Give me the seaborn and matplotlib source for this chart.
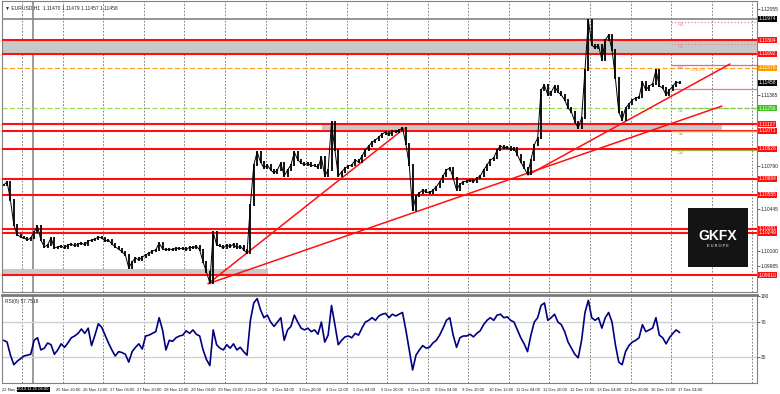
import numpy as np
import pandas as pd
import matplotlib
matplotlib.use('Agg')
import matplotlib.pyplot as plt
import matplotlib.transforms as mtransforms
from matplotlib.patches import Rectangle
import seaborn as sns

sns.set_style('white')
plt.rcParams['font.family'] = ['Liberation Sans', 'DejaVu Sans']

# EURUSD, 2-hour closes (22 Nov 12:00 .. 17 Dec 04:00)
close = [1.10636, 1.10660, 1.10515, 1.10313, 1.10233, 1.10217, 1.10209, 1.10192, 1.10209, 1.10257,
         1.10305, 1.10192, 1.10136, 1.10152, 1.10209, 1.10128, 1.10136, 1.10144, 1.10128, 1.10152,
         1.10160, 1.10144, 1.10160, 1.10168, 1.10152, 1.10184, 1.10192, 1.10200, 1.10217, 1.10209,
         1.10184, 1.10192, 1.10160, 1.10136, 1.10120, 1.10096, 1.10072, 1.09967, 1.10015, 1.10047,
         1.10031, 1.10055, 1.10072, 1.10088, 1.10104, 1.10112, 1.10168, 1.10120, 1.10112, 1.10120,
         1.10112, 1.10128, 1.10120, 1.10128, 1.10112, 1.10136, 1.10128, 1.10144, 1.10112, 1.10015,
         1.09934, 1.09846, 1.10257, 1.10152, 1.10144, 1.10128, 1.10152, 1.10136, 1.10160, 1.10128,
         1.10144, 1.10112, 1.10088, 1.10475, 1.10797, 1.10902, 1.10821, 1.10773, 1.10797, 1.10757,
         1.10732, 1.10757, 1.10813, 1.10708, 1.10757, 1.10797, 1.10902, 1.10837, 1.10813, 1.10797,
         1.10813, 1.10789, 1.10797, 1.10773, 1.10862, 1.10708, 1.10757, 1.11144, 1.10918, 1.10708,
         1.10740, 1.10773, 1.10789, 1.10797, 1.10837, 1.10821, 1.10869, 1.10918, 1.10950, 1.10982,
         1.10998, 1.11023, 1.11047, 1.11063, 1.11039, 1.11071, 1.11063, 1.11079, 1.11095, 1.10966,
         1.10797, 1.10434, 1.10547, 1.10571, 1.10595, 1.10579, 1.10571, 1.10595, 1.10620, 1.10660,
         1.10708, 1.10757, 1.10773, 1.10692, 1.10595, 1.10644, 1.10660, 1.10668, 1.10676, 1.10660,
         1.10692, 1.10708, 1.10757, 1.10797, 1.10837, 1.10853, 1.10918, 1.10950, 1.10934, 1.10942,
         1.10918, 1.10934, 1.10878, 1.10821, 1.10773, 1.10724, 1.10837, 1.10958, 1.11015, 1.11401,
         1.11442, 1.11361, 1.11385, 1.11434, 1.11385, 1.11361, 1.11321, 1.11256, 1.11224, 1.11144,
         1.11095, 1.11176, 1.11563, 1.11966, 1.11764, 1.11740, 1.11764, 1.11643, 1.11804, 1.11845,
         1.11724, 1.11498, 1.11224, 1.11160, 1.11256, 1.11289, 1.11321, 1.11337, 1.11345, 1.11466,
         1.11401, 1.11434, 1.11450, 1.11563, 1.11434, 1.11418, 1.11361, 1.11401, 1.11434, 1.11466,
         1.11458]

rsi = [49, 47, 32, 21, 25, 28, 31, 32, 33, 49,
       52, 38, 40, 46, 44, 33, 38, 45, 41, 46,
       52, 54, 57, 62, 57, 63, 43, 55, 68, 64,
       55, 46, 38, 31, 36, 35, 33, 24, 36, 41,
       45, 39, 54, 55, 57, 59, 75, 61, 38, 49,
       48, 52, 54, 55, 60, 57, 61, 56, 54, 38,
       27, 20, 61, 44, 40, 38, 44, 40, 45, 38,
       41, 36, 32, 72, 92, 97, 84, 75, 78, 70,
       65, 70, 75, 49, 61, 65, 78, 70, 63, 61,
       63, 59, 61, 56, 70, 47, 55, 89, 67, 44,
       49, 53, 54, 52, 57, 55, 63, 70, 72, 75,
       72, 77, 79, 80, 75, 79, 77, 79, 81, 61,
       38, 15, 32, 38, 43, 40, 41, 46, 49, 55,
       63, 72, 75, 55, 41, 52, 54, 54, 56, 53,
       57, 60, 67, 72, 75, 72, 78, 79, 75, 76,
       72, 70, 61, 52, 45, 36, 55, 70, 75, 89,
       92, 72, 75, 79, 70, 67, 59, 47, 40, 33,
       29, 49, 81, 95, 75, 72, 75, 63, 75, 81,
       70, 44, 24, 21, 36, 43, 47, 49, 52, 67,
       59, 61, 63, 75, 55, 52, 45, 52, 57, 61,
       58]

tick_bars = [0, 16, 24, 32, 40, 48, 56, 64, 72, 80, 88, 96, 104, 112, 120,
             128, 136, 144, 152, 160, 168, 176, 184, 192, 200]
tick_labels = ['22 Nov 2019', '25 Nov 20:00', '26 Nov 12:00', '27 Nov 04:00', '27 Nov 20:00',
               '28 Nov 12:00', '29 Nov 04:00', '29 Nov 20:00', '2 Dec 12:00', '3 Dec 04:00',
               '3 Dec 20:00', '4 Dec 12:00', '5 Dec 04:00', '5 Dec 20:00', '6 Dec 12:00',
               '9 Dec 04:00', '9 Dec 20:00', '10 Dec 12:00', '11 Dec 04:00', '11 Dec 20:00',
               '12 Dec 12:00', '13 Dec 04:00', '13 Dec 20:00', '16 Dec 12:00', '17 Dec 04:00']
day_starts = [6, 18, 30, 42, 54, 66, 78, 90, 102, 114, 126, 138, 150, 162, 174, 186, 198, 210, 222]

price_ticks = [1.09870, 1.09985, 1.10100, 1.10215, 1.10330, 1.10445, 1.10560, 1.10675, 1.10790,
               1.10905, 1.11020, 1.11135, 1.11250, 1.11365, 1.11480, 1.11595, 1.11710, 1.11825,
               1.11940, 1.12055]

red_levels = [1.11804, 1.11692, 1.11127, 1.11071, 1.10926, 1.10684, 1.10555, 1.10281, 1.10249, 1.09910]
grey_level = 1.11974
orange_level = 1.11579
green_level = 1.11256
last_price = 1.11458

# grey zones (price low, price high, bar start, bar end)
zones = [(1.11692, 1.11804, -1, 230), (1.11071, 1.11119, 94.2, 212.5), (1.09902, 1.09959, -1, 78.2)]

# trend lines (bar, price) -> (bar, price)
trend_lines = [((60.5, 1.09840), (118.7, 1.11095)),
               ((60.5, 1.09840), (212.5, 1.11272)),
               ((155.1, 1.10716), (214.9, 1.11611))]

# daily pivots of 17 Dec
pivot_names = ['R3', 'R2', 'R1', '', 'S1', 'S2', 'S3']
pivot_levels = [1.11950, 1.11772, 1.11603, 1.11410, 1.11256, 1.11071, 1.10918]
pivot_colors = ['#e88a9a', '#e88a9a', '#e06a7a', '#f08070', '#88c860', '#a8b040', '#a8b040']
pivot_styles = [':', ':', '-', '-', '--', '-', '-']

idx = np.arange(len(close))
opens = [close[0]] + close[:-1]
lo = np.minimum(opens, close)
hi = np.maximum(opens, close)

fig = plt.figure(figsize=(7.8, 3.94), dpi=100)
W, H = 780, 394
ax = fig.add_axes([2 / W, (H - 292) / H, 755 / W, 291 / H])
ax_rsi = fig.add_axes([2 / W, (H - 383) / H, 755 / W, 88 / H])

xlim = (-0.5, 222.9)
for a in (ax, ax_rsi):
    a.set_xlim(*xlim)
    a.set_facecolor('white')
    for d in day_starts:
        a.axvline(d - 0.5, color='#6a6a6a', lw=0.6, ls=(0, (2, 2)), zorder=1)
    a.axvline(8.7, color='#9a9a9a', lw=1.4, zorder=1)
    for s in a.spines.values():
        s.set_color('#808080')
        s.set_linewidth(0.8)

ax.set_ylim(1.09773, 1.12119)

# zones and horizontal levels
for p0, p1, b0, b1 in zones:
    ax.add_patch(Rectangle((b0, p0), b1 - b0, p1 - p0, color='#c8c8c8', zorder=2, lw=0))
for lv in red_levels:
    ax.axhline(lv, color='#ff1010', lw=1.5, zorder=3)
ax.axhline(grey_level, color='#8c8c8c', lw=1.3, zorder=3)
ax.axhline(orange_level, color='#ffa020', lw=0.9, ls=(0, (4, 2)), zorder=3)
ax.axhline(green_level, color='#90e050', lw=0.9, ls=(0, (4, 2)), zorder=3)

for name, lv, c, ls in zip(pivot_names, pivot_levels, pivot_colors, pivot_styles):
    ax.hlines(lv, 197.5, xlim[1], color=c, lw=0.9, ls=ls, zorder=3)
    if name:
        ax.text(199.5, lv, name, color=c, fontsize=3.6, va='top', zorder=6)
ax.text(203, orange_level - 0.00004, '1.11579', color='#ffa020', fontsize=3.2, va='top', zorder=6)

for (b0, p0), (b1, p1) in trend_lines:
    ax.plot([b0, b1], [p0, p1], color='#ff1010', lw=1.1, zorder=4)

# price bars
ax.vlines(idx, lo - 0.00006, hi + 0.00006, color='black', lw=1.3, zorder=5)
sns.lineplot(x=idx, y=close, ax=ax, color='black', lw=0.7, zorder=5)

ax.text(0.004, 0.985, '\u25bc EURUSD,H1  1.11470 1.11479 1.11457 1.11458', transform=ax.transAxes,
        fontsize=3.6, va='top', ha='left', zorder=7)

# right price scale; plain ticks hidden behind the coloured level boxes
boxes = [(grey_level, 'black'), (last_price, 'black'), (orange_level, '#ff9a00'),
         (green_level, '#40c020')] + [(lv, '#ff1010') for lv in red_levels]
boxed = [lv for lv, _ in boxes]
shown = [p for p in price_ticks if min(abs(p - b) for b in boxed) > 0.00062]
ax.yaxis.tick_right()
ax.set_yticks(shown)
ax.set_yticklabels([f'{p:.5f}' for p in shown], fontsize=3.5)
ax.tick_params(axis='y', length=2, width=0.5, pad=0.8, colors='#202020')
ax.set_xticks([])
ax.set_xlabel('')
ax.set_ylabel('')

tr = mtransforms.blended_transform_factory(ax.transAxes, ax.transData)
for lv, c in boxes:
    ax.text(1.002, lv, f'{lv:.5f}', transform=tr, fontsize=3.5, color='white', va='center', ha='left',
            bbox=dict(boxstyle='square,pad=0.15', fc=c, ec='none'), clip_on=False, zorder=8)

# RSI panel
sns.lineplot(x=idx, y=rsi, ax=ax_rsi, color='#000080', lw=1.2, zorder=5)
ax_rsi.set_ylim(0, 101.1)
for lv in (70, 30):
    ax_rsi.axhline(lv, color='#d0d0d0', lw=1.0, zorder=2)
ax_rsi.yaxis.tick_right()
ax_rsi.set_yticks([100, 70, 30])
ax_rsi.set_yticklabels(['100', '70', '30'], fontsize=3.5)
ax_rsi.tick_params(axis='y', length=2, width=0.5, pad=0.8, colors='#202020')
ax_rsi.spines['top'].set_linewidth(2.0)
ax_rsi.spines['top'].set_color('#7a7a7a')
ax_rsi.set_ylabel('')
ax_rsi.text(0.004, 0.96, 'RSI(8) 57.7518', transform=ax_rsi.transAxes, fontsize=3.5, va='top')

ax_rsi.set_xticks([b - 0.5 for b in tick_bars])
ax_rsi.set_xticklabels(tick_labels, fontsize=3.0, ha='left')
ax_rsi.tick_params(axis='x', length=2, width=0.5, pad=1.5, colors='#202020')
ax_rsi.text(8.7, -0.05, '2019.11.25 06:00',
            transform=mtransforms.blended_transform_factory(ax_rsi.transData, ax_rsi.transAxes),
            fontsize=3.0, color='white', ha='center', va='top',
            bbox=dict(boxstyle='square,pad=0.2', fc='black', ec='none'), clip_on=False, zorder=8)

# logo
fig.add_artist(Rectangle((688 / W, 1 - 267 / H), 60 / W, 59 / H, transform=fig.transFigure,
                         fc='#141414', ec='none', zorder=10))
fig.text(718 / W, 1 - 236 / H, 'GKFX', color='white', fontsize=10, fontweight='bold',
         ha='center', va='center', zorder=11)
fig.text(718 / W, 1 - 246 / H, 'E U R O P E', color='white', fontsize=2.8,
         ha='center', va='center', zorder=11)

fig.savefig('out.png', dpi=100, facecolor='white')
